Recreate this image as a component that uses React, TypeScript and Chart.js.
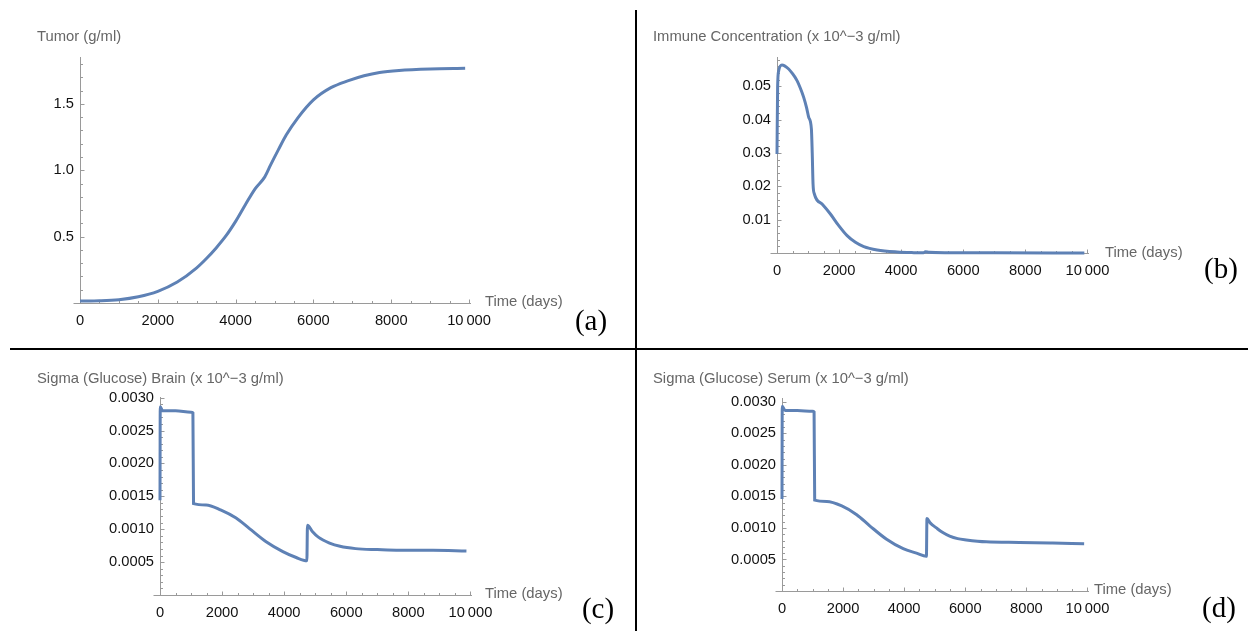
import React, { useEffect, useRef } from "react";
import { Chart, registerables } from "chart.js";

Chart.register(...registerables);

// ---------- data ----------
const X_TICKS = [0, 2000, 4000, 6000, 8000, 10000];
const X_MINOR_STEP = 500;
const X_MAX = 10050;

const TUMOR_T = [0, 500, 1000, 1500, 2000, 2500, 3000, 3250, 3500, 3750, 4000, 4250, 4500, 4750, 4900, 5100, 5300, 5600, 6000, 6450, 6900, 7300, 7700, 8200, 9000, 9900];
const TUMOR_V = [0.015, 0.017, 0.025, 0.047, 0.088, 0.158, 0.265, 0.335, 0.415, 0.505, 0.615, 0.74, 0.86, 0.95, 1.04, 1.155, 1.265, 1.395, 1.53, 1.622, 1.675, 1.712, 1.737, 1.752, 1.763, 1.768];
const TUMOR_Y_TICKS = [0.5, 1.0, 1.5];

const IMMUNE_T = [0, 20, 55, 160, 376, 500, 645, 750, 860, 950, 1022, 1108, 1135, 1161, 1204, 1452, 1720, 1989, 2258, 2527, 2796, 3226, 3871, 4409, 4720, 4780, 4900, 5500, 7000, 9900];
const IMMUNE_V = [0.0297, 0.0497, 0.0547, 0.0564, 0.0552, 0.0538, 0.0517, 0.0495, 0.0467, 0.0437, 0.0407, 0.0372, 0.03, 0.0207, 0.0177, 0.0147, 0.0117, 0.0082, 0.0052, 0.0032, 0.0019, 0.0009, 0.0003, 0.0001, 0.00005, 0.0004, 0.0002, 0.0001, 0.00005, 0.00002];
const IMMUNE_Y_TICKS = [0.01, 0.02, 0.03, 0.04, 0.05];

const BRAIN_T = [0, 8, 86, 500, 1000, 1060, 1080, 1484, 1968, 2452, 2882, 3419, 3957, 4387, 4731, 4750, 4900, 5100, 5462, 5800, 6300, 7000, 7720, 8796, 9871];
const BRAIN_V = [0.00144, 0.00286, 0.0028, 0.0028, 0.00278, 0.00277, 0.00139, 0.00137, 0.00129, 0.00117, 0.00101, 0.00081, 0.00066, 0.00057, 0.00052, 0.00106, 0.00097, 0.00088, 0.00079, 0.00074, 0.000705, 0.00069, 0.00068, 0.00068, 0.00067];

const SERUM_T = [0, 8, 100, 500, 1000, 1050, 1070, 1467, 1957, 2446, 2880, 3424, 3967, 4402, 4728, 4745, 4850, 5054, 5250, 5489, 5750, 6033, 6685, 7772, 8859, 9891];
const SERUM_V = [0.00146, 0.00293, 0.00286, 0.00286, 0.00285, 0.00284, 0.00144, 0.00142, 0.00135, 0.00121, 0.00103, 0.00082, 0.00067, 0.0006, 0.00055, 0.00115, 0.00108, 0.001, 0.00093, 0.00087, 0.00083, 0.00081, 0.00078, 0.00077, 0.00076, 0.00075];

const SIGMA_Y_TICKS = [0.0005, 0.001, 0.0015, 0.002, 0.0025, 0.003];

const TITLES = [
  "Tumor (g/ml)",
  "Immune Concentration (x 10^\u22123 g/ml)",
  "Sigma (Glucose) Brain (x 10^\u22123 g/ml)",
  "Sigma (Glucose) Serum (x 10^\u22123 g/ml)",
];
const X_LABEL = "Time (days)";
const PANEL_LABELS = ["(a)", "(b)", "(c)", "(d)"];

// ---------- style ----------
const FONT = "'Liberation Sans', Arial, sans-serif";
const CURVE = "#5E81B5";
const AXIS_COLOR = "#9a9a9a";
const TICK_COLOR = "#111111";
const LABEL_COLOR = "#666666";
const YW = 90;
const XH = 30;
const PT = 20;
const PR = 30;

type Spec = {
  t: number[];
  v: number[];
  yMax: number;
  yTicks: number[];
  yMinorStep: number;
  yDecimals: number;
  area: { left: number; top: number; right: number; bottom: number };
  title: string;
  titlePos: [number, number];
  xLabelPos: [number, number];
  panelLabel: string;
  panelPos: [number, number];
};

const SPECS: Spec[] = [
  {
    t: TUMOR_T, v: TUMOR_V, yMax: 1.853, yTicks: TUMOR_Y_TICKS, yMinorStep: 0.1, yDecimals: 1,
    area: { left: 80, top: 57, right: 471, bottom: 303 },
    title: TITLES[0], titlePos: [37, 36], xLabelPos: [485, 301], panelLabel: PANEL_LABELS[0], panelPos: [591, 320],
  },
  {
    t: IMMUNE_T, v: IMMUNE_V, yMax: 0.0588, yTicks: IMMUNE_Y_TICKS, yMinorStep: 0.002, yDecimals: 2,
    area: { left: 777, top: 57, right: 1089, bottom: 253 },
    title: TITLES[1], titlePos: [653, 36], xLabelPos: [1105, 252], panelLabel: PANEL_LABELS[1], panelPos: [1221, 268],
  },
  {
    t: BRAIN_T, v: BRAIN_V, yMax: 0.00301, yTicks: SIGMA_Y_TICKS, yMinorStep: 0.0001, yDecimals: 4,
    area: { left: 160, top: 397, right: 472, bottom: 595 },
    title: TITLES[2], titlePos: [37, 378], xLabelPos: [485, 593], panelLabel: PANEL_LABELS[2], panelPos: [598, 608],
  },
  {
    t: SERUM_T, v: SERUM_V, yMax: 0.00306, yTicks: SIGMA_Y_TICKS, yMinorStep: 0.0001, yDecimals: 4,
    area: { left: 782, top: 398, right: 1089, bottom: 591 },
    title: TITLES[3], titlePos: [653, 378], xLabelPos: [1094, 589], panelLabel: PANEL_LABELS[3], panelPos: [1219, 607],
  },
];

const axesPlugin = {
  id: "mmaAxes",
  beforeDatasetsDraw(chart: any, _args: any, opts: any) {
    const { ctx, chartArea, scales } = chart;
    const xs = scales.x;
    const ys = scales.y;
    const x0 = Math.round(xs.getPixelForValue(0)) + 0.5;
    const y0 = Math.round(ys.getPixelForValue(0)) + 0.5;
    ctx.save();
    ctx.strokeStyle = AXIS_COLOR;
    ctx.lineWidth = 1;
    ctx.beginPath();
    ctx.moveTo(x0 - 7, y0);
    ctx.lineTo(chartArea.right, y0);
    ctx.moveTo(x0, y0);
    ctx.lineTo(x0, chartArea.top);
    for (let i = 1; i * X_MINOR_STEP <= xs.max; i++) {
      const v = i * X_MINOR_STEP;
      const major = X_TICKS.includes(v);
      const px = Math.round(xs.getPixelForValue(v)) + 0.5;
      ctx.moveTo(px, y0);
      ctx.lineTo(px, y0 - (major ? 4 : 2.5));
    }
    const step = opts.yMinorStep;
    const n = Math.floor(ys.max / step + 1e-6);
    for (let i = 1; i <= n; i++) {
      const v = i * step;
      const major = opts.yTicks.some((t: number) => Math.abs(t - v) < step / 10);
      const py = Math.round(ys.getPixelForValue(v)) + 0.5;
      ctx.moveTo(x0, py);
      ctx.lineTo(x0 + (major ? 4 : 2.5), py);
    }
    ctx.stroke();
    ctx.restore();
  },
};

function fmtX(v: number): string {
  return v === 10000 ? "10\u2009000" : String(v);
}

function Panel({ spec }: { spec: Spec }) {
  const ref = useRef<HTMLCanvasElement>(null);
  const { area } = spec;
  const w = area.right - area.left + YW + PR;
  const h = area.bottom - area.top + PT + XH;

  useEffect(() => {
    const chart = new Chart(ref.current as HTMLCanvasElement, {
      type: "line",
      data: {
        datasets: [
          {
            data: spec.t.map((t, i) => ({ x: t, y: spec.v[i] })),
            borderColor: CURVE,
            borderWidth: 3,
            pointRadius: 0,
            cubicInterpolationMode: "monotone",
            clip: false as any,
            fill: false,
          },
        ],
      },
      options: {
        animation: false,
        responsive: false,
        devicePixelRatio: 1,
        events: [],
        layout: { padding: { top: PT, right: PR, left: 0, bottom: 0 } },
        plugins: {
          legend: { display: false },
          tooltip: { enabled: false },
          mmaAxes: { yMinorStep: spec.yMinorStep, yTicks: spec.yTicks },
        } as any,
        scales: {
          x: {
            type: "linear",
            min: 0,
            max: X_MAX,
            grid: { display: false, drawTicks: false },
            border: { display: false },
            afterBuildTicks: (s: any) => {
              s.ticks = X_TICKS.map((v) => ({ value: v }));
            },
            afterFit: (s: any) => {
              s.height = XH;
            },
            ticks: {
              autoSkip: false,
              maxRotation: 0,
              padding: 9,
              color: TICK_COLOR,
              font: { family: FONT, size: 14.7 },
              callback: (v: any) => fmtX(Number(v)),
            },
          },
          y: {
            type: "linear",
            min: 0,
            max: spec.yMax,
            grid: { display: false, drawTicks: false },
            border: { display: false },
            afterBuildTicks: (s: any) => {
              s.ticks = spec.yTicks.map((v) => ({ value: v }));
            },
            afterFit: (s: any) => {
              s.width = YW;
            },
            ticks: {
              autoSkip: false,
              padding: 6,
              color: TICK_COLOR,
              font: { family: FONT, size: 14.7 },
              callback: (v: any) => Number(v).toFixed(spec.yDecimals),
            },
          },
        },
      },
      plugins: [axesPlugin],
    } as any);
    return () => chart.destroy();
  }, []);

  const textStyle = (x: number, cy: number): React.CSSProperties => ({
    position: "absolute",
    left: x,
    top: cy - 9,
    height: 18,
    lineHeight: "18px",
    fontFamily: FONT,
    fontSize: 14.8,
    color: LABEL_COLOR,
    whiteSpace: "nowrap",
  });

  return (
    <>
      <canvas
        ref={ref}
        width={w}
        height={h}
        style={{ position: "absolute", left: area.left - YW, top: area.top - PT, width: w, height: h }}
      />
      <div style={textStyle(spec.titlePos[0], spec.titlePos[1])}>{spec.title}</div>
      <div style={textStyle(spec.xLabelPos[0], spec.xLabelPos[1])}>{X_LABEL}</div>
      <div
        style={{
          position: "absolute",
          left: spec.panelPos[0] - 30,
          width: 60,
          top: spec.panelPos[1] - 18,
          height: 36,
          lineHeight: "36px",
          textAlign: "center",
          fontFamily: "'Liberation Serif', 'Times New Roman', serif",
          fontSize: 29,
          color: "#000",
          whiteSpace: "nowrap",
        }}
      >
        {spec.panelLabel}
      </div>
    </>
  );
}

export default function App() {
  return (
    <div
      style={{
        position: "absolute",
        left: 0,
        top: 0,
        width: 1248,
        height: 631,
        background: "#fff",
        overflow: "hidden",
      }}
    >
      {SPECS.map((s, i) => (
        <Panel key={i} spec={s} />
      ))}
      <div style={{ position: "absolute", left: 635, top: 10, width: 2, height: 621, background: "#000" }} />
      <div style={{ position: "absolute", left: 10, top: 348, width: 1238, height: 2, background: "#000" }} />
    </div>
  );
}
